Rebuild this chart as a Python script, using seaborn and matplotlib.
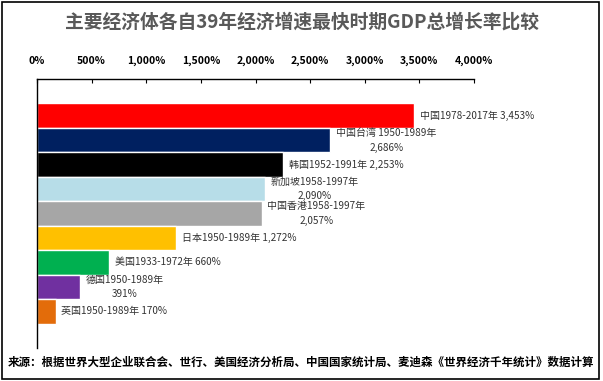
import matplotlib
matplotlib.use('Agg')
import matplotlib.pyplot as plt
import matplotlib.patches as mpatches
from matplotlib.ticker import FuncFormatter, MultipleLocator
import pandas as pd
import seaborn as sns

economies = ['中国', '中国台湾 ', '韩国', '新加坡', '中国香港', '日本', '美国', '德国', '英国']
periods = ['1978-2017年', '1950-1989年', '1952-1991年', '1958-1997年', '1958-1997年',
           '1950-1989年', '1933-1972年', '1950-1989年', '1950-1989年']
growth = [3453, 2686, 2253, 2090, 2057, 1272, 660, 391, 170]
wrapped = [False, True, False, True, True, False, False, True, False]
colors = ['#FF0000', '#002060', '#000000', '#B7DDE8', '#A6A6A6',
          '#FFC000', '#00B050', '#7030A0', '#E36C0A']

title = '主要经济体各自39年经济增速最快时期GDP总增长率比较'
source = '来源：根据世界大型企业联合会、世行、美国经济分析局、中国国家统计局、麦迪森《世界经济千年统计》数据计算'


def main():
    sns.set_style('white')
    plt.rcParams['font.family'] = ['Noto Sans CJK SC', 'DejaVu Sans']

    df = pd.DataFrame({'label': [e + p for e, p in zip(economies, periods)], 'growth': growth})

    fig = plt.figure(figsize=(6.03, 3.81), dpi=100)
    ax = fig.add_axes([0.0614, 0.0866, 0.7247, 0.7061])
    sns.barplot(data=df, x='growth', y='label', hue='label', palette=colors,
                width=1.0, legend=False, orient='h', ax=ax, saturation=1)

    ax.set_xlim(0, 4000)
    ax.set_ylim(len(growth) + 0.5, -1.5)
    ax.xaxis.tick_top()
    ax.xaxis.set_major_locator(MultipleLocator(500))
    ax.xaxis.set_major_formatter(FuncFormatter(lambda v, p: f'{int(v):,}%'))
    ax.tick_params(axis='x', direction='in', length=3, width=0.8, pad=9,
                   labelsize=7.5, colors='black')
    for lab in ax.get_xticklabels():
        lab.set_fontweight('bold')
    ax.set_yticks([])
    ax.set_xlabel('')
    ax.set_ylabel('')
    for side in ['right', 'bottom']:
        ax.spines[side].set_visible(False)
    for side in ['top', 'left']:
        ax.spines[side].set_color('black')
        ax.spines[side].set_linewidth(1)

    for i, (lab, val, wr) in enumerate(zip(df['label'], growth, wrapped)):
        sep = '\n' if wr else ' '
        t = ax.annotate(f'{lab}{sep}{val:,}%', xy=(val, i), xytext=(4, 0),
                        textcoords='offset points', ha='left', va='center',
                        fontsize=7.2, color='#333333', linespacing=1.6)
        t.set_multialignment('center')

    fig.text(0.5, 0.942, title, ha='center', va='center', fontsize=13.5,
             fontweight='bold', color='#595959')
    fig.text(0.012, 0.05, source, ha='left', va='center', fontsize=8.3,
             fontweight='bold', color='black')
    fig.patches.append(mpatches.Rectangle((0.003, 0.005), 0.991, 0.99, transform=fig.transFigure,
                                          fill=False, edgecolor='black', linewidth=1.2))

    fig.savefig('out.png', dpi=100)


if __name__ == '__main__':
    main()
